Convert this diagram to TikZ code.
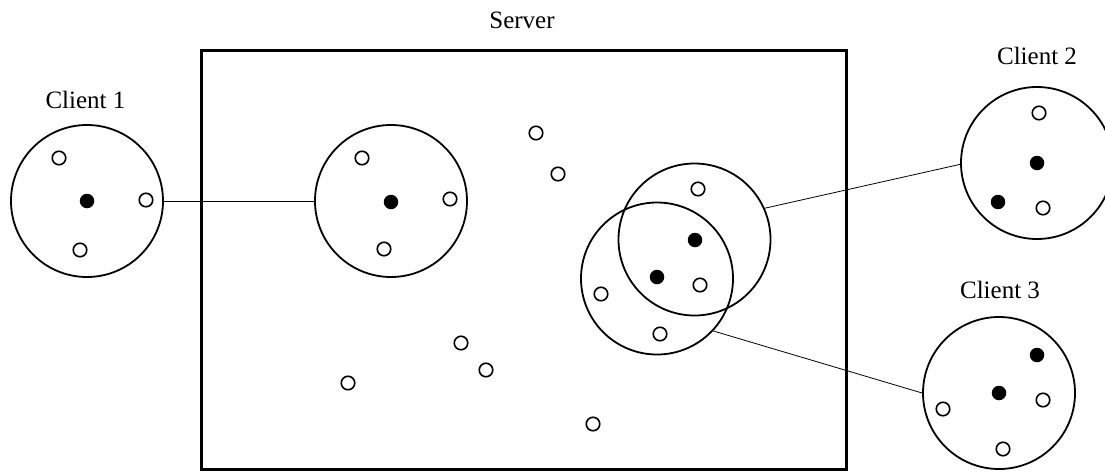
\documentclass[tikz,border=0pt]{standalone}
\usepackage{fontspec}
\setmainfont{Liberation Serif}
\begin{document}
\begin{tikzpicture}[x=1pt,y=-1pt,
  bigc/.style={circle,draw,line width=1.8pt,minimum size=152pt,inner sep=0pt},
  odot/.style={circle,draw,line width=1.6pt,minimum size=13.5pt,inner sep=0pt},
  fdot/.style={circle,fill,minimum size=14.5pt,inner sep=0pt},
  link/.style={line width=0.8pt},
  lbl/.style={font=\fontsize{25}{30}\selectfont,anchor=base,inner sep=0pt}]
\useasboundingbox (0,0) rectangle (1105,472);
% server box
\node[draw,line width=3pt,minimum width=645pt,minimum height=419pt,inner sep=0pt] (server) at (523.5,259.5) {};
\node[lbl] (serverlbl) at (522,28) {Server};
% client 1
\node[lbl] (c1lbl) at (85.5,108) {Client 1};
\node[bigc] (c1) at (87,201) {};
\node[fdot] (c1a) at (87,201) {};
\node[odot] (c1b) at (59,158) {};
\node[odot] (c1c) at (146,200) {};
\node[odot] (c1d) at (80,250) {};
% server circle 1
\node[bigc] (s1) at (391,201) {};
\node[fdot] (s1a) at (391,202) {};
\node[odot] (s1b) at (362,158) {};
\node[odot] (s1c) at (450,199) {};
\node[odot] (s1d) at (384,249) {};
% scattered
\node[odot] (p1) at (536,133) {};
\node[odot] (p2) at (558,174) {};
\node[odot] (p3) at (461,343) {};
\node[odot] (p4) at (486,370) {};
\node[odot] (p5) at (348,383) {};
\node[odot] (p6) at (593,424) {};
% overlapping circles
\node[bigc] (s2) at (694.5,239.5) {};
\node[bigc] (s3) at (657,278.5) {};
\node[odot] (q1) at (698,189) {};
\node[fdot] (q2) at (695,240) {};
\node[fdot] (q3) at (657,277) {};
\node[odot] (q4) at (700,285) {};
\node[odot] (q5) at (601,294) {};
\node[odot] (q6) at (660,334) {};
% client 2
\node[lbl] (c2lbl) at (1037,64) {Client 2};
\node[bigc] (c2) at (1037,163) {};
\node[odot] (c2a) at (1039,113) {};
\node[fdot] (c2b) at (1037,163) {};
\node[fdot] (c2c) at (998,202) {};
\node[odot] (c2d) at (1043,208) {};
% client 3
\node[lbl] (c3lbl) at (1000,298) {Client 3};
\node[bigc] (c3) at (999,393) {};
\node[fdot] (c3a) at (1037,355) {};
\node[fdot] (c3b) at (999,393) {};
\node[odot] (c3c) at (1043,400) {};
\node[odot] (c3d) at (943,409) {};
\node[odot] (c3e) at (1003,449) {};
% links
\draw[link] (c1.east) -- (s1.west);
\draw[link] (s2.24) -- (c2.181);
\draw[link] (s3.-43) -- (c3.west);
\end{tikzpicture}
\end{document}
